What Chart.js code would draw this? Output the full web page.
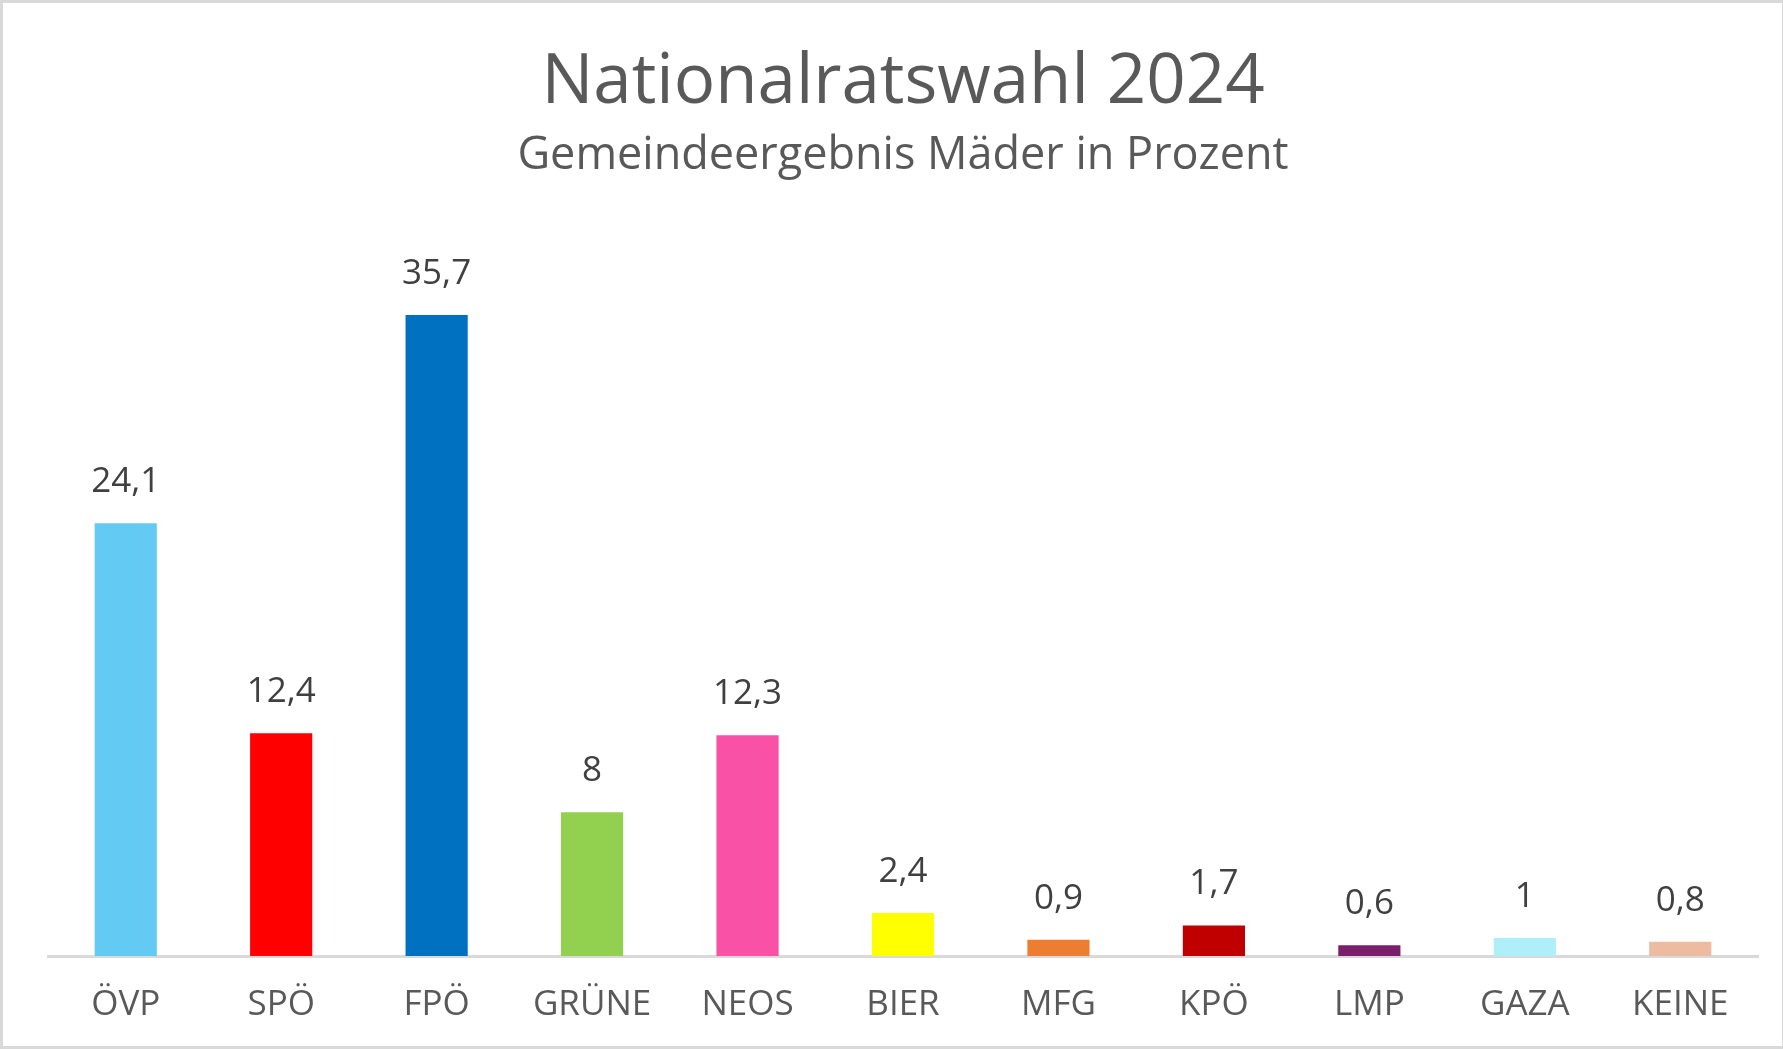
<!DOCTYPE html>
<html>
<head>
<meta charset="utf-8">
<script src="https://cdn.jsdelivr.net/npm/chart.js@4"></script>
<style>
html,body{margin:0;padding:0;background:#fff;overflow:hidden;}
#wrap{position:absolute;left:0;top:0;border:1px solid #D9D9D9;border-width:3px 1px 3px 3px;box-sizing:border-box;width:1783px;height:1049px;}
canvas{display:block;}
</style>
</head>
<body>
<div id="wrap"><canvas id="c"></canvas></div>
<script>
const categories = ["ÖVP","SPÖ","FPÖ","GRÜNE","NEOS","BIER","MFG","KPÖ","LMP","GAZA","KEINE"];
const values = [24.1,12.4,35.7,8,12.3,2.4,0.9,1.7,0.6,1,0.8];
const valueLabels = ["24,1","12,4","35,7","8","12,3","2,4","0,9","1,7","0,6","1","0,8"];
const barColors = ["#63CBF3","#FF0000","#0070C0","#92D050","#F851A5","#FFFF00","#ED7D31","#C00000","#7B1F6B","#AFEFFA","#EDBCA0"];
const titleText = "Nationalratswahl 2024";
const subtitleText = "Gemeindeergebnis Mäder in Prozent";

const FONT = "'Open Sans', 'Liberation Sans', sans-serif";

const valueLabelPlugin = {
  id: 'valueLabels',
  afterDatasetsDraw(chart) {
    const ctx = chart.ctx;
    const meta = chart.getDatasetMeta(0);
    ctx.save();
    ctx.font = "400 35px " + FONT;
    ctx.fillStyle = "#404040";
    ctx.textAlign = "center";
    ctx.textBaseline = "middle";
    meta.data.forEach((bar, i) => {
      ctx.fillText(valueLabels[i], bar.x, bar.y - 41);
    });
    ctx.restore();
  }
};

new Chart(document.getElementById('c'), {
  type: 'bar',
  data: {
    labels: categories,
    datasets: [{
      data: values,
      backgroundColor: barColors,
      borderWidth: 0,
      barPercentage: 0.4,
      categoryPercentage: 1.0
    }]
  },
  options: {
    responsive: true,
    maintainAspectRatio: false,
    animation: false,
    devicePixelRatio: 1,
    layout: { padding: { left: 45, right: 24, top: 39, bottom: 0 } },
    plugins: {
      legend: { display: false },
      tooltip: { enabled: false },
      title: {
        display: true,
        text: titleText,
        color: "#595959",
        font: { family: FONT, size: 69, weight: '400' },
        padding: { top: 0, bottom: 4 }
      },
      subtitle: {
        display: true,
        text: subtitleText,
        color: "#595959",
        font: { family: FONT, size: 45, weight: '400' },
        padding: { top: 0, bottom: 55 }
      }
    },
    scales: {
      x: {
        grid: { display: false },
        border: { display: true, color: "#D9D9D9", width: 3 },
        ticks: { color: "#595959", font: { family: FONT, size: 35 }, padding: 20 }
      },
      y: {
        display: false,
        min: 0,
        max: 40
      }
    }
  },
  plugins: [valueLabelPlugin]
});
</script>
</body>
</html>
